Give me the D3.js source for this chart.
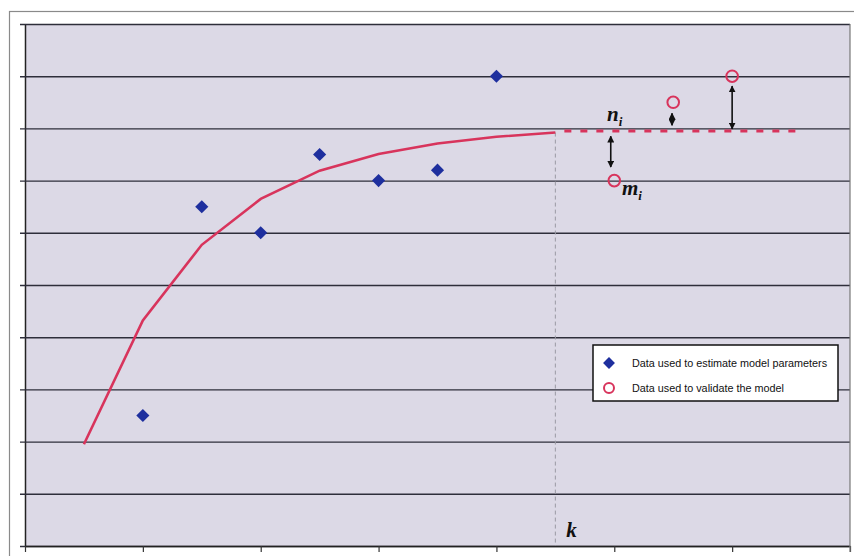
<!DOCTYPE html>
<html>
<head>
<meta charset="utf-8">
<script src="https://cdn.jsdelivr.net/npm/d3@7"></script>
<style>
  body { margin: 0; background: #fff; }
  svg { display: block; }
</style>
</head>
<body>
<svg id="chart" width="854" height="556"></svg>
<script>
// fitted model curve (solid up to k)
let fitX = [0.5, 1, 1.5, 2, 2.5, 3, 3.5, 4, 4.5];
let fitY = [1.95, 4.32, 5.77, 6.65, 7.19, 7.51, 7.71, 7.84, 7.92];
// projection after k (dashed)
let projX = [4.5, 6.5];
let projY = [7.95, 7.95];
// data used to estimate model parameters
let estX = [1, 1.5, 2, 2.5, 3, 3.5, 4];
let estY = [2.5, 6.5, 6.0, 7.5, 7.0, 7.2, 9.0];
// data used to validate the model
let valX = [5, 5.5, 6];
let valY = [7.0, 8.5, 9.0];
// error arrows
let arrowX = [4.97, 5.49, 6.0];
let arrowTop = [7.85, 8.29, 8.81];
let arrowBot = [7.26, 8.06, 7.99];
let kX = 4.5;
let legendLabels = ['Data used to estimate model parameters', 'Data used to validate the model'];

let svg = d3.select('#chart');
let mLeft = 25, mRight = 850, mTop = 24, mBottom = 546;

let x = d3.scaleLinear().domain([0, 7]).range([mLeft, mRight]);
let y = d3.scaleLinear().domain([0, 10]).range([mBottom, mTop]);

// outer chart border
svg.append('rect').attr('x', 9.5).attr('y', 11.5).attr('width', 860).attr('height', 560)
  .attr('fill', '#fff').attr('stroke', '#8a8a8a').attr('stroke-width', 1.2);

// plot background
svg.append('rect').attr('x', mLeft).attr('y', mTop).attr('width', mRight - mLeft).attr('height', mBottom - mTop)
  .attr('fill', '#dcd9e6');

let defs = svg.append('defs');
defs.append('marker').attr('id', 'ah').attr('viewBox', '0 0 10 10')
  .attr('refX', 9).attr('refY', 5).attr('markerWidth', 7).attr('markerHeight', 7)
  .attr('markerUnits', 'userSpaceOnUse').attr('orient', 'auto-start-reverse')
  .append('path').attr('d', 'M0,0 L10,5 L0,10 z').attr('fill', '#111');

// horizontal gridlines
let yAxis = d3.axisLeft(y).ticks(10).tickSize(-(mRight - mLeft)).tickFormat('').tickSizeOuter(0);
let gy = svg.append('g').attr('transform', `translate(${mLeft},0)`).call(yAxis);
gy.select('.domain').attr('stroke', '#222').attr('stroke-width', 1.5);
gy.selectAll('.tick line').attr('x1', -5).attr('stroke', '#2e2e3a').attr('stroke-width', 1.4);

// bottom axis
let xAxis = d3.axisBottom(x).ticks(7).tickSize(6).tickFormat('').tickSizeOuter(0);
let gx = svg.append('g').attr('transform', `translate(0,${mBottom})`).call(xAxis);
gx.select('.domain').attr('stroke', '#222').attr('stroke-width', 1.5);
gx.selectAll('.tick line').attr('stroke', '#333').attr('stroke-width', 1.2);

// right border of plot
svg.append('line').attr('x1', mRight).attr('x2', mRight).attr('y1', mTop).attr('y2', mBottom + 6)
  .attr('stroke', '#777').attr('stroke-width', 1.2);

// k marker
svg.append('line').attr('x1', x(kX)).attr('x2', x(kX)).attr('y1', y(fitY[fitY.length - 1])).attr('y2', mBottom)
  .attr('stroke', '#9a9aa4').attr('stroke-width', 1).attr('stroke-dasharray', '4,3');
svg.append('text').attr('x', x(kX) + 11).attr('y', 537)
  .attr('font-family', 'Liberation Serif, serif').attr('font-style', 'italic').attr('font-weight', 'bold')
  .attr('font-size', 21).attr('fill', '#111').text('k');

// model curve
let line = d3.line().x(d => x(d[0])).y(d => y(d[1]));
svg.append('path').datum(d3.zip(fitX, fitY)).attr('d', line)
  .attr('fill', 'none').attr('stroke', '#d8345c').attr('stroke-width', 2.6);
svg.append('path').datum(d3.zip(projX, projY)).attr('d', line)
  .attr('fill', 'none').attr('stroke', '#d8345c').attr('stroke-width', 3.2).attr('stroke-dasharray', '7,9')
  .attr('transform', 'translate(9,0)');

// arrows
svg.append('g').selectAll('line').data(d3.range(arrowX.length)).join('line')
  .attr('x1', i => x(arrowX[i])).attr('x2', i => x(arrowX[i]))
  .attr('y1', i => y(arrowTop[i])).attr('y2', i => y(arrowBot[i]))
  .attr('stroke', '#111').attr('stroke-width', 1.6)
  .attr('marker-start', 'url(#ah)').attr('marker-end', 'url(#ah)');

// estimation points
let diamond = d3.symbol().type(d3.symbolDiamond2).size(110);
svg.append('g').selectAll('path').data(d3.zip(estX, estY)).join('path')
  .attr('d', diamond).attr('transform', d => `translate(${x(d[0])},${y(d[1])})`)
  .attr('fill', '#1e2f9e');

// validation points
svg.append('g').selectAll('circle').data(d3.zip(valX, valY)).join('circle')
  .attr('cx', d => x(d[0])).attr('cy', d => y(d[1])).attr('r', 5.8)
  .attr('fill', 'none').attr('stroke', '#d8345c').attr('stroke-width', 2);

// labels n_i and m_i
function subLabel(px, py, main) {
  let t = svg.append('text').attr('x', px).attr('y', py)
    .attr('font-family', 'Liberation Serif, serif').attr('font-style', 'italic').attr('font-weight', 'bold')
    .attr('fill', '#111');
  t.append('tspan').attr('font-size', 21).text(main);
  t.append('tspan').attr('font-size', 13).attr('dy', 5).text('i');
}
subLabel(607, 121, 'n');
subLabel(622, 195, 'm');

// legend
let lg = svg.append('g').attr('transform', 'translate(593,345)');
lg.append('rect').attr('width', 245).attr('height', 56)
  .attr('fill', '#fff').attr('stroke', '#111').attr('stroke-width', 1.5);
lg.append('path').attr('d', d3.symbol().type(d3.symbolDiamond2).size(90)).attr('transform', 'translate(16,18)')
  .attr('fill', '#1e2f9e');
lg.append('circle').attr('cx', 16).attr('cy', 43).attr('r', 5)
  .attr('fill', 'none').attr('stroke', '#d8345c').attr('stroke-width', 2);
lg.selectAll('text.lab').data(legendLabels).join('text').attr('class', 'lab')
  .attr('x', 39).attr('y', (d, i) => 22 + i * 25)
  .attr('font-family', 'Liberation Sans, Arial, sans-serif').attr('font-size', 10.8)
  .attr('fill', '#111').text(d => d);
</script>
</body>
</html>
